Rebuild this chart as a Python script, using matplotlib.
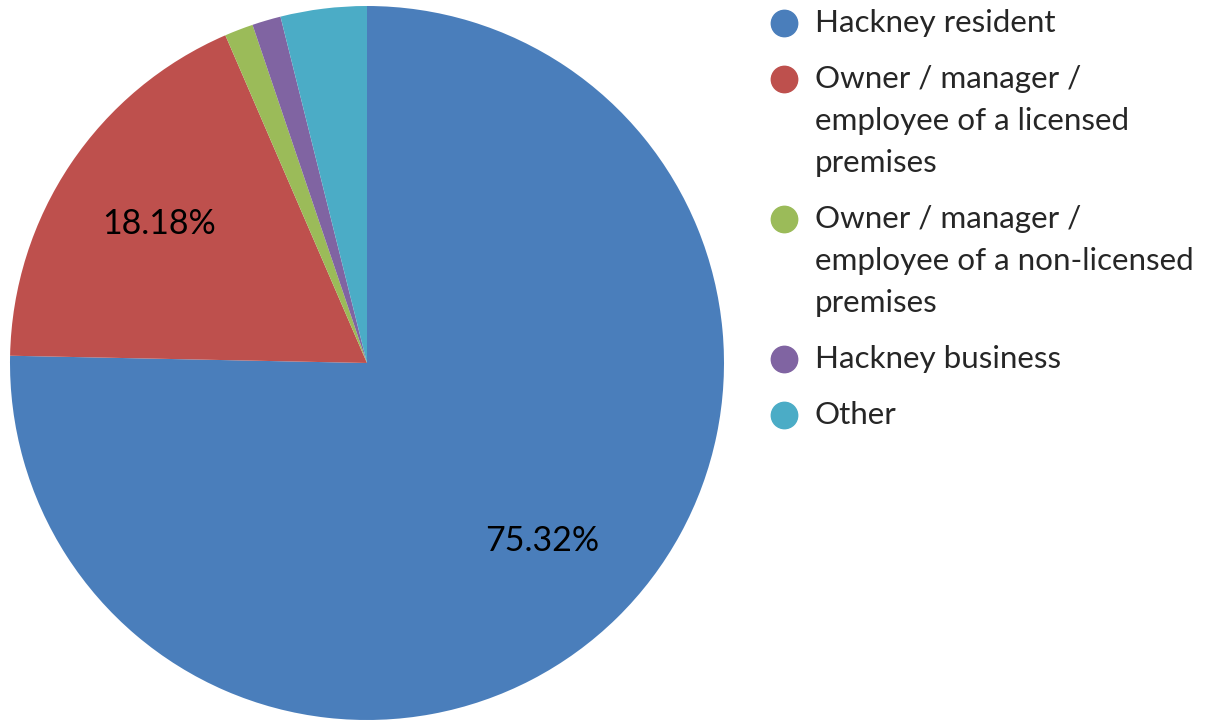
import matplotlib
matplotlib.use("Agg")
import matplotlib.pyplot as plt

plt.rcParams['font.family'] = ['Lato', 'DejaVu Sans']

# responses by type (counts, 77 total)
categories = ['Hackney resident',
              'Owner / manager /\nemployee of a licensed\npremises',
              'Owner / manager /\nemployee of a non-licensed\npremises',
              'Hackney business',
              'Other']
counts = [58, 14, 1, 1, 3]
colors = ['#4A7EBB', '#BE504D', '#9BBB59', '#8064A2', '#4BACC6']

W, H = 1211, 721
fig = plt.figure(figsize=(W / 100, H / 100), dpi=100)

# pie: centre (367, 363) px, radius 357 px
cx, cy, r = 367, 363, 357
ax = fig.add_axes([(cx - r) / W, (H - cy - r) / H, 2 * r / W, 2 * r / H])


def pct_label(p):
    return '%.2f%%' % p if p > 10 else ''


wedges, texts, autotexts = ax.pie(counts, colors=colors, startangle=90, counterclock=False,
                                  autopct=pct_label, pctdistance=0.70, radius=1,
                                  wedgeprops=dict(linewidth=0),
                                  textprops=dict(fontsize=24.5, color='black'))
ax.set_xlim(-1, 1)
ax.set_ylim(-1, 1)
ax.set_aspect('equal')
ax.axis('off')

# legend drawn by hand so the marker sits on the first line
line_h = 42
entry_gap = 56
y = 23
for cat, col in zip(categories, colors):
    fig.add_artist(plt.Line2D([784 / W], [1 - y / H], marker='o', markersize=19,
                              color=col, linestyle='none', transform=fig.transFigure))
    lines = cat.split('\n')
    for i, ln in enumerate(lines):
        fig.text(815 / W, 1 - (y + i * line_h) / H, ln, fontsize=22.6, color='#262626',
                 ha='left', va='center')
    y += (len(lines) - 1) * line_h + entry_gap

fig.savefig('out.png', dpi=100)
